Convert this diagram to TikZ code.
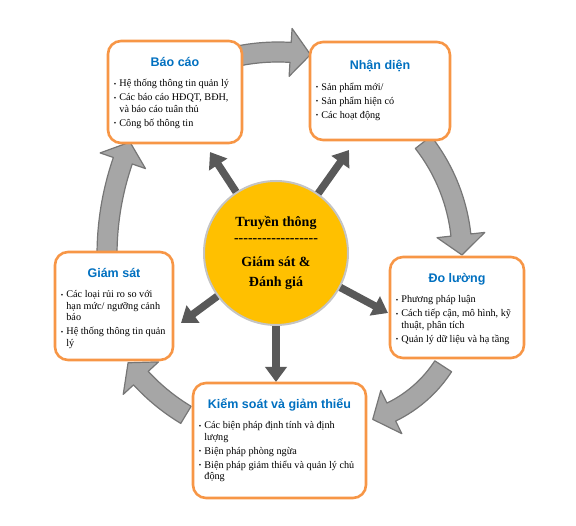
\documentclass[tikz,border=0pt]{standalone}
\usepackage{fontspec}
\setmainfont{Liberation Serif}
\newfontfamily\headfont{Liberation Sans}
\usepackage{tikz}
\usetikzlibrary{arrows.meta,positioning}
\definecolor{PanelOrange}{RGB}{247,150,70}
\definecolor{TitleBlue}{RGB}{0,112,192}
\definecolor{HubGold}{RGB}{255,192,0}
\definecolor{HubRim}{RGB}{196,196,196}
\definecolor{SpokeGray}{RGB}{89,89,89}
\definecolor{LoopFill}{RGB}{166,166,166}
\definecolor{LoopLine}{RGB}{118,118,118}
% bullet lines
\newcommand{\lbul}{\makebox[5.5pt][l]{\raisebox{0.15ex}{\scriptsize\textbullet}}}
\newcommand{\lcont}{\hspace*{5.5pt}}
\newcommand{\topln}{\rule{0pt}{10.5pt}}
\newcommand{\hubdash}{\foreach \k in {1,...,18}{\mbox{-}}}
% curved block arrow: centre, radius, start angle, end angle
\newcommand{\cyclearrow}[4]{%
  \pgfmathsetmacro{\headang}{#4-20/#2*57.2958}
  \filldraw[looparrow, shift={(#1)}]
    plot[domain=#3:\headang, samples=24] (\x:{#2+10})
    -- (\headang:{#2+24}) -- (#4:#2) -- (\headang:{#2-24})
    -- plot[domain=\headang:#3, samples=24] (\x:{#2-10}) -- cycle;
}

\begin{document}
\begin{tikzpicture}[x=1pt, y=-1pt,
    panel/.style={draw=PanelOrange, line width=2.6pt, rounded corners=13pt, fill=white},
    head/.style={font=\headfont\bfseries\fontsize{12.5}{14}\selectfont, text=TitleBlue, inner sep=0pt, text height=9pt, text depth=2pt},
    points/.style={font=\fontsize{10.2}{11.5}\selectfont, align=left, inner sep=0pt},
    hub/.style={circle, fill=HubGold, draw=HubRim, line width=2pt, minimum size=144pt, inner sep=0pt, align=center, font=\bfseries\fontsize{14}{20}\selectfont},
    spoke/.style={SpokeGray, line width=7.5pt, -{Triangle[width=21pt,length=15pt]}},
    looparrow/.style={fill=LoopFill, draw=LoopLine, line width=1.2pt, line join=round}]
  \useasboundingbox (0,0) rectangle (576,526);

  % cycle arrows (behind the panels)
  \cyclearrow{278,255}{203}{-101}{-80.8}
  \cyclearrow{279,255}{183}{-38}{0}
  \cyclearrow{335,296}{129}{33}{73}
  \cyclearrow{291,240}{204}{121}{143}
  \cyclearrow{396,255}{289}{180}{203}

  % hub and spokes
  \node[hub] (hub) at (276,253) {Truyền thông\\[-4pt] \hubdash\\[4pt] Giám sát \&\\ Đánh giá};
  \coordinate (tipBao) at (210,152);
  \coordinate (tipNhan) at (349,150);
  \coordinate (tipDo) at (388,313);
  \coordinate (tipKiem) at (276,382);
  \coordinate (tipGiam) at (181,323);
  \draw[spoke] (hub) -- (tipBao);
  \draw[spoke] (hub) -- (tipNhan);
  \draw[spoke] (hub) -- (tipDo);
  \draw[spoke] (hub) -- (tipKiem);
  \draw[spoke] (hub) -- (tipGiam);

  % panels
  \node[panel, minimum width=134pt, minimum height=102pt] (bao) at (175,92) {};
  \node[head, below=17.5pt of bao.north] (baoHead) {Báo cáo};
  \node[points, below right=36.5pt and 7pt of bao.north west] (baoList) {\topln\lbul Hệ thống thông tin quản lý\\[2.5pt]
    \lbul Các báo cáo HĐQT, BĐH,\\ \lcont và báo cáo tuân thủ\\[2.5pt]
    \lbul Công bố thông tin};

  \node[panel, minimum width=140pt, minimum height=98pt] (nhan) at (380,91) {};
  \node[head, below=19.5pt of nhan.north] (nhanHead) {Nhận diện};
  \node[points, below right=39pt and 7pt of nhan.north west] (nhanList) {\topln\lbul Sản phẩm mới/\\[2.5pt]
    \lbul Sản phẩm hiện có\\[2.5pt]
    \lbul Các hoạt động};

  \node[panel, minimum width=134pt, minimum height=101pt] (do) at (457,307.5) {};
  \node[head, below=17.5pt of do.north] (doHead) {Đo lường};
  \node[points, below right=36.5pt and 7pt of do.north west] (doList) {\topln\lbul Phương pháp luận\\[2.5pt]
    \lbul Cách tiếp cận, mô hình, kỹ\\ \lcont thuật, phân tích\\[2.5pt]
    \lbul Quản lý dữ liệu và hạ tầng};

  \node[panel, minimum width=173pt, minimum height=115pt] (kiem) at (279.5,440.5) {};
  \node[head, below=17.5pt of kiem.north] (kiemHead) {Kiểm soát và giảm thiểu};
  \node[points, below right=36.5pt and 7pt of kiem.north west] (kiemList) {\topln\lbul Các biện pháp định tính và định\\ \lcont lượng\\[2.5pt]
    \lbul Biện pháp phòng ngừa\\[2.5pt]
    \lbul Biện pháp giảm thiểu và quản lý chủ\\ \lcont động};

  \node[panel, minimum width=118pt, minimum height=108pt] (giam) at (114,306) {};
  \node[head, below=17.5pt of giam.north] (giamHead) {Giám sát};
  \node[points, below right=36.5pt and 7pt of giam.north west] (giamList) {\topln\lbul Các loại rủi ro so với\\ \lcont hạn mức/ ngưỡng cảnh\\ \lcont báo\\[2.5pt]
    \lbul Hệ thống thông tin quản\\ \lcont lý};
\end{tikzpicture}
\end{document}
